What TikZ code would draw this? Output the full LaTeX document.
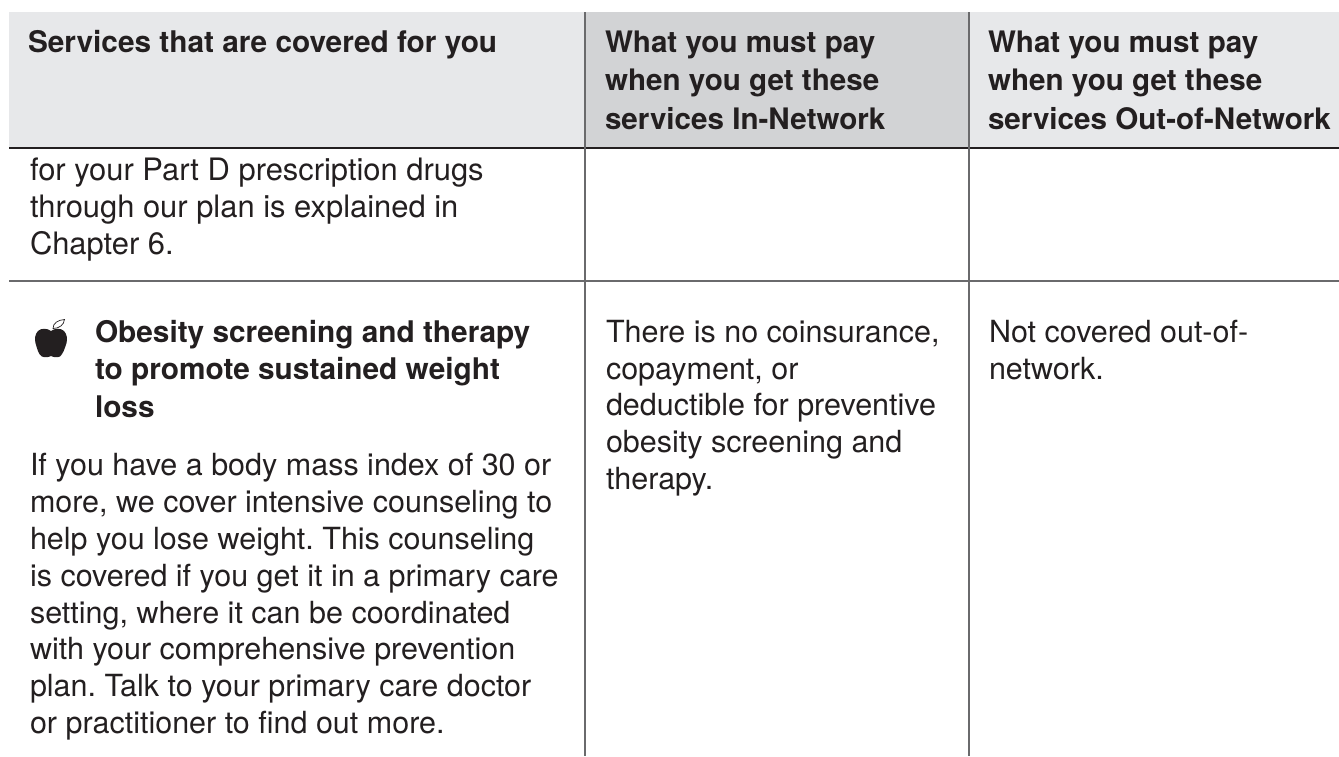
\documentclass[tikz,border=0pt]{standalone}
\usepackage{fontspec}
\setmainfont{TeX Gyre Heros}
\definecolor{hdrlight}{HTML}{E7E8EA}
\definecolor{hdrdark}{HTML}{D2D3D5}
\definecolor{rule}{HTML}{6A6A6C}
\definecolor{ink}{HTML}{231F20}
\frenchspacing
\tikzset{
 cell/.style={anchor=north west,inner sep=0pt,outer sep=0pt,align=left,text=ink,font=\fontsize{30.5}{36.8}\selectfont},
 cellwide/.style={cell,font=\fontsize{30.9}{37}\selectfont},
 head/.style={cell,font=\fontsize{29.6}{38.5}\selectfont\bfseries},
 headwide/.style={cell,font=\fontsize{29.8}{38.5}\selectfont\bfseries},
 sub/.style={cell,font=\fontsize{29.8}{37.5}\selectfont\bfseries}
}
\begin{document}
\begin{tikzpicture}[x=1pt,y=-1pt]
\useasboundingbox (0,0) rectangle (1339,756);
\fill[hdrlight] (9,12) rectangle (585,148);
\fill[hdrdark] (585,12) rectangle (969,148);
\fill[hdrlight] (969,12) rectangle (1339,148);
\draw[ink,line width=1.5pt] (9,148) -- (1339,148);
\draw[rule,line width=2pt] (9,281) -- (1339,281);
\draw[rule,line width=2pt] (585,12) -- (585,756);
\draw[rule,line width=2pt] (969,12) -- (969,756);
\node[headwide] (h1) at (28,30.5) {Services that are covered for you};
\node[head] (h2) at (605,30.5) {What you must pay\\when you get these\\services In-Network};
\node[head] (h3) at (988,30.5) {What you must pay\\when you get these\\services Out-of-Network};
\node[cellwide] (c1) at (30,157.5) {for your Part D prescription drugs\\through our plan is explained in\\Chapter 6.};
\node[sub] (t) at (95,320) {Obesity screening and therapy\\to promote sustained weight\\loss};
\node[cell] (b) at (30,453.5) {If you have a body mass index of 30 or\\more, we cover intensive counseling to\\help you lose weight. This counseling\\is covered if you get it in a primary care\\setting, where it can be coordinated\\with your comprehensive prevention\\plan. Talk to your primary care doctor\\or practitioner to find out more.};
\node[cell] (c2) at (606,320) {There is no coinsurance,\\copayment, or\\deductible for preventive\\obesity screening and\\therapy.};
\node[cell] (c3) at (989,320) {Not covered out-of-\\network.};
% apple
\fill[ink] (51,331) .. controls (47,328) and (41,328) .. (38,331)
  .. controls (35,334) and (34.5,339) .. (35.5,343)
  .. controls (37,348) and (38,354) .. (42,356.5)
  .. controls (45,358) and (49,357) .. (51,356)
  .. controls (53,357) and (57,358) .. (60,356.5)
  .. controls (63,354) and (65,348) .. (66.5,343)
  .. controls (67.5,339) and (67,334) .. (64,331)
  .. controls (61,328) and (55,328) .. (51,331) -- cycle;
\draw[ink,line width=0.7pt] (53,328.5) .. controls (53,323) and (58,320) .. (64.5,319.5) .. controls (64,325) and (59,328.5) .. (53,328.5) -- cycle;
\end{tikzpicture}
\end{document}
